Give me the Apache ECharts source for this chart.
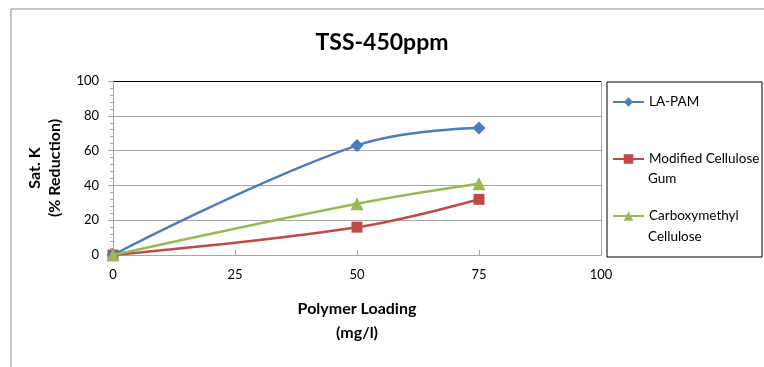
<!DOCTYPE html>
<html>
<head>
<meta charset="utf-8">
<script src="https://cdn.jsdelivr.net/npm/echarts@6/dist/echarts.min.js"></script>
<style>
    html, body { margin: 0; padding: 0; background: #fff; }
    #chart { width: 764px; height: 367px; }
</style>
</head>
<body>
<div id="chart"></div>
<script>
var seriesNames = ['LA-PAM', 'Modified Cellulose Gum', 'Carboxymethyl Cellulose'];
var loading = [0, 50, 75];
var laPam = [0, 63, 73];
var modGum = [0, 16, 32];
var cmc = [0, 29.5, 41];

function pairs(xs, ys) {
    var out = [];
    for (var i = 0; i < xs.length; i++) {
        out.push([xs[i], ys[i]]);
    }
    return out;
}

var font = 'Lato';
var dom = document.getElementById('chart');
var myChart = echarts.init(dom);
var option = {
    animation: false,
    textStyle: { fontFamily: font },
    title: {
        text: 'TSS-450ppm',
        left: 'center',
        top: 26,
        textStyle: { fontFamily: font, fontSize: 23, fontWeight: 'bold', color: '#000' }
    },
    grid: { left: 113, right: 163, top: 81, bottom: 112 },
    legend: {
        orient: 'vertical',
        left: 612,
        top: 95,
        padding: 0,
        itemWidth: 31,
        itemHeight: 12,
        itemGap: 43,
        data: seriesNames,
        formatter: function (name) {
            if (name === 'Modified Cellulose Gum') return 'Modified Cellulose';
            if (name === 'Carboxymethyl Cellulose') return 'Carboxymethyl';
            return name;
        },
        textStyle: { fontFamily: font, fontSize: 13.5, color: '#000' }
    },
    graphic: [
        { type: 'rect', shape: { x: 11, y: 9, width: 800, height: 400 }, style: { fill: 'none', stroke: '#8c8c8c', lineWidth: 1 }, silent: true },
        { type: 'rect', shape: { x: 607, y: 82, width: 155, height: 175 }, style: { fill: 'none', stroke: '#000', lineWidth: 1 }, silent: true },
        { type: 'text', left: 648, top: 172, style: { text: 'Gum', fontFamily: font, fontSize: 13.5, fill: '#000' } },
        { type: 'text', left: 648, top: 230, style: { text: 'Cellulose', fontFamily: font, fontSize: 13.5, fill: '#000' } }
    ],
    xAxis: {
        type: 'value',
        min: 0,
        max: 100,
        interval: 25,
        name: 'Polymer Loading\n(mg/l)',
        nameLocation: 'middle',
        nameGap: 42,
        nameTextStyle: { fontFamily: font, fontSize: 16, fontWeight: 'bold', color: '#000', lineHeight: 24 },
        axisLine: { lineStyle: { color: '#a6a6a6' } },
        axisTick: { inside: true, length: 5, lineStyle: { color: '#a6a6a6' } },
        axisLabel: { margin: 13, fontSize: 13, color: '#000', fontFamily: font },
        splitLine: { show: true, lineStyle: { color: ['none', 'none', 'none', 'none', '#a6a6a6'] } }
    },
    yAxis: {
        type: 'value',
        min: 0,
        max: 100,
        interval: 20,
        name: 'Sat. K\n(% Reduction)',
        nameLocation: 'middle',
        nameGap: 48,
        nameTextStyle: { fontFamily: font, fontSize: 16, fontWeight: 'bold', color: '#000', lineHeight: 20 },
        axisLine: { show: true, lineStyle: { color: '#a6a6a6' } },
        axisTick: { show: true, length: 5, lineStyle: { color: '#a6a6a6' } },
        minorTick: { show: true, splitNumber: 5, length: 3, lineStyle: { color: '#a6a6a6' } },
        axisLabel: { margin: 14, fontSize: 13, color: '#000', fontFamily: font },
        splitLine: { show: true, lineStyle: { color: ['#a6a6a6', '#a6a6a6', '#a6a6a6', '#a6a6a6', '#a6a6a6', '#000'] } }
    },
    series: [
        {
            name: seriesNames[0],
            type: 'line',
            smooth: 0.4,
            data: pairs(loading, laPam),
            symbol: 'diamond',
            symbolSize: 13,
            lineStyle: { width: 2.5, color: '#4a7ebb' },
            itemStyle: { color: '#4a7ebb' },
            z: 3
        },
        {
            name: seriesNames[1],
            type: 'line',
            smooth: 0.4,
            data: pairs(loading, modGum),
            symbol: 'rect',
            symbolSize: 11,
            lineStyle: { width: 2.5, color: '#be4b48' },
            itemStyle: { color: '#be4b48' },
            z: 2
        },
        {
            name: seriesNames[2],
            type: 'line',
            smooth: 0.4,
            data: pairs(loading, cmc),
            symbol: 'triangle',
            symbolSize: 13,
            lineStyle: { width: 2.5, color: '#98b954' },
            itemStyle: { color: '#98b954' },
            z: 4
        }
    ]
};
if (option && typeof option === "object") {
    myChart.setOption(option, true);
}
</script>
</body>
</html>
